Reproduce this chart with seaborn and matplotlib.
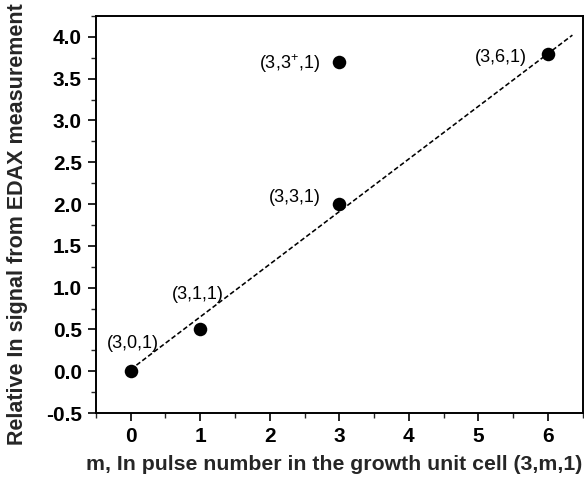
import matplotlib
matplotlib.use("Agg")
import matplotlib.pyplot as plt
from matplotlib.ticker import MultipleLocator
import seaborn as sns
import pandas as pd

# data
m_values = [0, 1, 3, 3, 6]
ln_signal = [0.0, 0.5, 2.0, 3.7, 3.8]
point_labels = ["(3,0,1)", "(3,1,1)", "(3,3,1)", "(3,3$^{+}$,1)", "(3,6,1)"]
fit_x = [0.0, 6.35]
fit_y = [0.02, 4.02]
x_ticks = [0, 1, 2, 3, 4, 5, 6]
y_ticks = [-0.5, 0.0, 0.5, 1.0, 1.5, 2.0, 2.5, 3.0, 3.5, 4.0]

# label offsets (in points) relative to each point
label_offsets = [(2, 20), (-1.5, 25), (-32, 4.5), (-36, -1.5), (-34, -3)]

sns.set_theme(style="ticks")
plt.rcParams["font.family"] = ["Liberation Sans", "DejaVu Sans"]
plt.rcParams["mathtext.fontset"] = "custom"
plt.rcParams["mathtext.rm"] = "Liberation Sans"
plt.rcParams["mathtext.it"] = "Liberation Sans"

fig = plt.figure(figsize=(5.84, 4.82), dpi=100)
ax = fig.add_axes([0.164, 0.143, 0.834, 0.824])

df_pts = pd.DataFrame({"m": m_values, "y": ln_signal})
df_fit = pd.DataFrame({"m": fit_x, "y": fit_y})

sns.lineplot(data=df_fit, x="m", y="y", ax=ax, color="black",
             linestyle=(0, (3.0, 1.6)), linewidth=1.15)
sns.scatterplot(data=df_pts, x="m", y="y", ax=ax, color="black",
                s=95, edgecolor="black", linewidth=0, zorder=3)

for xv, yv, lab, off in zip(m_values, ln_signal, point_labels, label_offsets):
    ax.annotate(lab, (xv, yv), xytext=off, textcoords="offset points",
                ha="center", va="center", fontsize=13, color="black")

ax.set_xlim(-0.5, 6.5)
ax.set_ylim(-0.5, 4.25)
ax.set_xticks(x_ticks)
ax.set_yticks(y_ticks)
ax.set_yticklabels([f"{v:.1f}" for v in y_ticks])
ax.xaxis.set_minor_locator(MultipleLocator(0.5))
ax.yaxis.set_minor_locator(MultipleLocator(0.25))

ax.tick_params(which="major", direction="out", length=6, width=1.2,
               labelsize=15, colors="black", pad=4)
ax.tick_params(which="minor", direction="out", length=3.5, width=1.0)
for lbl in ax.get_xticklabels() + ax.get_yticklabels():
    lbl.set_fontweight("bold")

for sp in ax.spines.values():
    sp.set_visible(True)
    sp.set_linewidth(1.4)
    sp.set_color("black")

ax.set_xlabel("m, In pulse number in the growth unit cell (3,m,1)",
              fontsize=15.3, fontweight="bold")
ax.set_ylabel("Relative In signal from EDAX measurement",
              fontsize=15.5, fontweight="bold")
ax.yaxis.set_label_coords(-0.140, 0.476)
ax.xaxis.set_label_coords(0.49, -0.105)

fig.savefig("out.png", dpi=100)
